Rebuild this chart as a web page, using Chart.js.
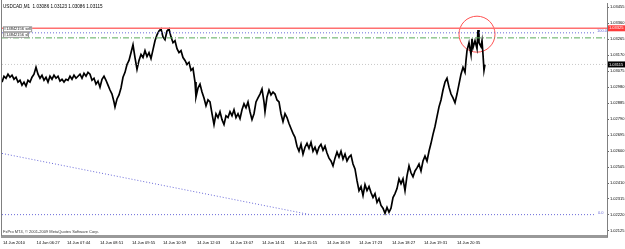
<!DOCTYPE html>
<html><head><meta charset="utf-8">
<script src="https://cdn.jsdelivr.net/npm/chart.js@4.4.1/dist/chart.umd.min.js"></script>
<style>html,body{margin:0;padding:0;background:#fff;overflow:hidden}canvas{display:block}</style>
</head><body>
<canvas id="c" width="625" height="249"></canvas>
<script>
// ---- data (bar index, price) ----
const barIndex = [-2,2,6,10,14,18,22,26,30,34,38,42,46,50,54,58,62,66,70,74,78,82,86,90,94,98,102,106,110,114,118,122,126,130,134,138,142,146,150,154,158,162,166,170,174,178,182,186,190,194,198,202,206,210,214,218,222,224,228,232,236,240,244,248,252,256,260,264,268,272,276,280,284,288,292,296,300,304,308,312,316,320,324,328,332,336,340,344,348,352,356,360,364,368,372,376,380,384,386,390,394,398,402,406,410,414,418,422,426,430,434,438,442,446,450,454,458,462,466,470,474,478,482,486,490,494,498,502,506,510,514,518,522,524,528,532,536,540,544,548,552,556,560,564,568,572,576,580,584,588,592,596,600,604,608,612,616,620,624,628,632,636,640,644,648,652,656,660,664,668,672,676,680,684,688,692,696,700,704,708,712,716,720,724,728,732,736,740,744,748,752,756,760,764,768,772,776,780,784,788,792,796,800,804,808,812,816,820,824,828,832,836,840,844,848,852,856,860,864,868,872,876,880,884,888,892,896,900,904,908,912,916,920,924,926,928,932,936,938,940,944,948,950,952,956,958,960,962,964];
const price = [1.03010,1.03045,1.03033,1.03057,1.03039,1.03051,1.03027,1.03039,1.03010,1.03021,1.02992,1.03010,1.02986,1.03021,1.03010,1.03039,1.03057,1.03098,1.03057,1.03033,1.03051,1.03021,1.03039,1.03010,1.03045,1.03027,1.03051,1.03033,1.03045,1.03016,1.03027,1.03010,1.03027,1.03021,1.03045,1.03027,1.03051,1.03033,1.03045,1.03057,1.03033,1.03062,1.03045,1.03068,1.03057,1.03021,1.03033,1.02998,1.03016,1.02980,1.03027,1.03045,1.03021,1.02992,1.02963,1.02939,1.02892,1.02863,1.02910,1.02934,1.02975,1.03039,1.03068,1.03115,1.03139,1.03185,1.03232,1.03156,1.03086,1.03139,1.03174,1.03156,1.03197,1.03162,1.03185,1.03150,1.03203,1.03256,1.03291,1.03314,1.03326,1.03279,1.03262,1.03314,1.03326,1.03279,1.03244,1.03256,1.03209,1.03185,1.03197,1.03156,1.03139,1.03115,1.03127,1.03080,1.03092,1.03010,1.02922,1.02975,1.02998,1.02951,1.02916,1.02869,1.02904,1.02892,1.02822,1.02758,1.02822,1.02799,1.02834,1.02787,1.02758,1.02810,1.02799,1.02834,1.02810,1.02846,1.02799,1.02822,1.02793,1.02846,1.02881,1.02857,1.02892,1.02834,1.02787,1.02822,1.02892,1.02916,1.02939,1.02969,1.02892,1.02834,1.02922,1.02963,1.02934,1.02951,1.02939,1.02904,1.02892,1.02822,1.02775,1.02822,1.02799,1.02764,1.02734,1.02705,1.02682,1.02629,1.02599,1.02640,1.02582,1.02623,1.02646,1.02617,1.02652,1.02599,1.02623,1.02588,1.02623,1.02640,1.02605,1.02629,1.02588,1.02558,1.02541,1.02512,1.02558,1.02594,1.02564,1.02599,1.02553,1.02582,1.02541,1.02564,1.02576,1.02523,1.02494,1.02424,1.02365,1.02389,1.02336,1.02400,1.02365,1.02389,1.02353,1.02324,1.02347,1.02295,1.02318,1.02277,1.02260,1.02230,1.02265,1.02236,1.02260,1.02324,1.02347,1.02377,1.02435,1.02406,1.02435,1.02365,1.02453,1.02512,1.02471,1.02447,1.02482,1.02500,1.02523,1.02482,1.02541,1.02570,1.02541,1.02599,1.02646,1.02699,1.02746,1.02805,1.02863,1.02904,1.02963,1.03010,1.03033,1.02980,1.02939,1.02916,1.02887,1.02939,1.02998,1.03057,1.03098,1.03068,1.03139,1.03197,1.03244,1.03174,1.03268,1.03215,1.03256,1.03209,1.03320,1.03244,1.03221,1.03256,1.03174,1.03080,1.03115];

const timeTickIndex = [0,67,128,194,258,320,388,454,518,582,648,712,778,842,908];
const timeTickLabels = ['14 Jun 2010','14 Jun 06:27','14 Jun 07:44','14 Jun 08:51','14 Jun 09:55','14 Jun 10:59','14 Jun 12:03','14 Jun 13:07','14 Jun 14:11','14 Jun 15:15','14 Jun 16:19','14 Jun 17:23','14 Jun 18:27','14 Jun 19:31','14 Jun 20:35'];
const priceTicks = [1.02125,1.02220,1.02315,1.02410,1.02505,1.02600,1.02695,1.02790,1.02885,1.02980,1.03075,1.03170,1.03265,1.03360,1.03455];

const stopLevel = 1.03330;      // red solid line
const stopLabel = '1.03325';
const fibTop = 1.03303;         // blue dotted
const fibBottom = 1.02222;      // blue dotted
const tpLevel = 1.03273;        // green dash-dot
const bidLevel = 1.03115;       // gray dotted
const bidLabel = '1.03115';
const trendX = [-2, 614];
const trendY = [1.02586, 1.02222];
const circleX = [948];
const circleY = [1.03295];
const headerText = 'USDCAD,M1  1.03086 1.03123 1.03086 1.03115';
const orderLabels = ['#14842156 sell', '#14842156 sl'];
const copyrightText = 'FxPro MT4, \u00a9 2001-2009 MetaQuotes Software Corp.';

const X_MIN = -2, X_MAX = 1208;
const FONT = 'Liberation Sans, Arial, sans-serif';
const FIB_COLOR = '#6a6ad8';

function hline(v, end) { return [{x: X_MIN, y: v}, {x: end, y: v}]; }

const overlay = {
  id: 'overlay',
  afterDraw(chart) {
    const ctx = chart.ctx, ys = chart.scales.y, a = chart.chartArea;
    ctx.save();
    ctx.strokeStyle = '#808080'; ctx.lineWidth = 1;
    ctx.beginPath(); ctx.moveTo(1.5, 0); ctx.lineTo(1.5, a.bottom); ctx.stroke();
    ctx.textBaseline = 'middle';
    ctx.font = '4.6px ' + FONT; ctx.fillStyle = '#000'; ctx.textAlign = 'left';
    ctx.fillText(headerText, 3, 7);
    ctx.font = '4px ' + FONT;
    const oy = [ys.getPixelForValue(stopLevel) + 1, ys.getPixelForValue(fibTop) + 2];
    orderLabels.forEach((t, i) => {
      const w = ctx.measureText(t).width;
      ctx.fillStyle = '#fff'; ctx.fillRect(3, oy[i] - 2.5, w + 2, 5);
      ctx.strokeStyle = '#999'; ctx.strokeRect(3.5, oy[i] - 2.5, w + 1, 5);
      ctx.fillStyle = '#222'; ctx.fillText(t, 4, oy[i]);
    });
    ctx.fillStyle = '#333'; ctx.font = '4px ' + FONT;
    ctx.fillText(copyrightText, 3, a.bottom - 4);
    ctx.fillStyle = FIB_COLOR;
    ctx.fillText('100.0', 597, ys.getPixelForValue(fibTop) - 2);
    ctx.fillText('0.0', 598, ys.getPixelForValue(fibBottom) - 2);
    const box = (v, txt, bg) => {
      const y = ys.getPixelForValue(v);
      ctx.fillStyle = bg; ctx.fillRect(a.right + 1, y - 3, 625 - a.right - 1, 6);
      ctx.fillStyle = '#fff'; ctx.font = '4px ' + FONT;
      ctx.fillText(txt, a.right + 2, y);
    };
    box(stopLevel, stopLabel, '#ff3b3b');
    box(bidLevel, bidLabel, '#000');
    ctx.restore();
  }
};

new Chart(document.getElementById('c'), {
  type: 'line',
  data: {
    datasets: [
      { data: hline(bidLevel, X_MAX), borderColor: '#c8c8c8', borderWidth: 1, borderDash: [1, 2], pointRadius: 0 },
      { data: hline(tpLevel, X_MAX), borderColor: '#5aaa5a', borderWidth: 1, borderDash: [6, 2, 1, 2], pointRadius: 0 },
      { data: hline(fibTop, 1186), borderColor: FIB_COLOR, borderWidth: 1, borderDash: [1, 2], pointRadius: 0 },
      { data: hline(fibBottom, 1186), borderColor: FIB_COLOR, borderWidth: 1, borderDash: [1, 2], pointRadius: 0 },
      { data: trendX.map((x, i) => ({x, y: trendY[i]})), borderColor: FIB_COLOR, borderWidth: 1, borderDash: [1, 2], pointRadius: 0 },
      { data: hline(stopLevel, X_MAX), borderColor: '#ff7070', borderWidth: 1.6, pointRadius: 0 },
      { data: barIndex.map((x, i) => ({x, y: price[i]})), borderColor: '#000', borderWidth: 1.7, pointRadius: 0, tension: 0 },
      { data: circleX.map((x, i) => ({x, y: circleY[i]})), showLine: false, pointRadius: 18, pointBorderColor: '#ff5050', pointBackgroundColor: 'rgba(0,0,0,0)', pointBorderWidth: 1 }
    ]
  },
  options: {
    responsive: false, animation: false, devicePixelRatio: 1,
    layout: { autoPadding: false, padding: { left: 2, top: 0, right: 0, bottom: 0 } },
    plugins: { legend: { display: false }, tooltip: { enabled: false } },
    elements: { line: { borderCapStyle: 'butt' } },
    scales: {
      x: {
        type: 'linear', min: X_MIN, max: X_MAX,
        afterFit: s => { s.height = 13; },
        afterBuildTicks: s => { s.ticks = timeTickIndex.map(v => ({ value: v })); },
        ticks: { autoSkip: false, maxRotation: 0, align: 'start', padding: 2, color: '#000', font: { size: 4, family: FONT },
          callback: (v, i) => timeTickLabels[i] },
        grid: { drawOnChartArea: false, drawTicks: true, tickLength: 2, color: '#666' },
        border: { display: true, color: '#999', width: 3 }
      },
      y: {
        position: 'right', min: 1.02095, max: 1.03478,
        afterFit: s => { s.width = 18; },
        afterBuildTicks: s => { s.ticks = priceTicks.map(v => ({ value: v })); },
        ticks: { padding: 1, color: '#000', font: { size: 4, family: FONT }, callback: v => v.toFixed(5) },
        grid: { drawOnChartArea: false, drawTicks: true, tickLength: 2, color: '#666' },
        border: { display: true, color: '#808080', width: 1 }
      }
    }
  },
  plugins: [overlay]
});
</script>
</body></html>
